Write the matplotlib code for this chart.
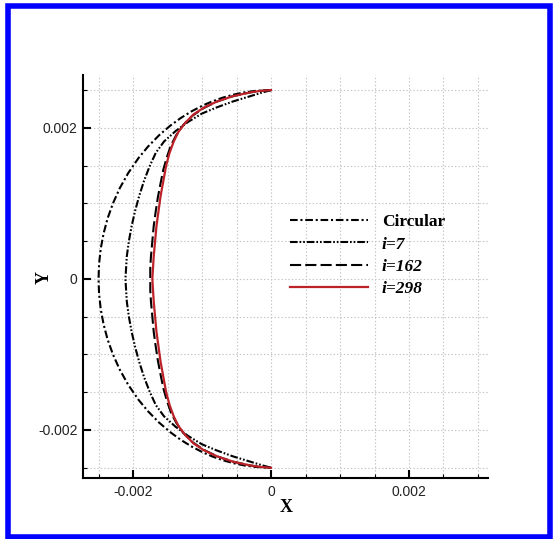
import matplotlib
matplotlib.use("Agg")
import matplotlib.pyplot as plt
from matplotlib.ticker import FixedLocator, MultipleLocator
from matplotlib.patches import Rectangle

plt.rcParams["lines.scale_dashes"] = False

# Profile shapes (X, Y) traced from top (0, 0.0025) to bottom (0, -0.0025)
circ_x = [0.0, -0.000223, -0.000386, -0.000544, -0.0007, -0.000853, -0.00098,
          -0.00115, -0.001309, -0.001459, -0.001625, -0.001785, -0.001921, -0.002071,
          -0.002193, -0.002291, -0.002369, -0.002427, -0.002468, -0.002492, -0.0025,
          -0.002492, -0.002468, -0.002427, -0.002369, -0.002291, -0.002193, -0.002071,
          -0.001921, -0.001785, -0.001625, -0.001459, -0.001309, -0.00115, -0.00098,
          -0.000853, -0.0007, -0.000544, -0.000386, -0.000223, 0.0]
circ_y = [0.0025, 0.00249, 0.00247, 0.00244, 0.0024, 0.00235, 0.0023,
          0.00222, 0.00213, 0.00203, 0.0019, 0.00175, 0.0016, 0.0014,
          0.0012, 0.001, 0.0008, 0.0006, 0.0004, 0.0002, 0.0,
          -0.0002, -0.0004, -0.0006, -0.0008, -0.001, -0.0012, -0.0014,
          -0.0016, -0.00175, -0.0019, -0.00203, -0.00213, -0.00222, -0.0023,
          -0.00235, -0.0024, -0.00244, -0.00247, -0.00249, -0.0025]

i7_x = [0.0, -0.00012, -0.0003, -0.00055, -0.00079, -0.001, -0.0012, -0.00138,
        -0.00155, -0.00167, -0.00176, -0.00184, -0.00191, -0.00197, -0.00202,
        -0.00206, -0.00209, -0.0021, -0.00211,
        -0.0021, -0.00209, -0.00206, -0.00202, -0.00197, -0.00191, -0.00184,
        -0.00176, -0.00167, -0.00155, -0.00138, -0.0012, -0.001, -0.00079,
        -0.00055, -0.0003, -0.00012, 0.0]
i7_y = [0.0025, 0.00247, 0.00242, 0.00235, 0.00227, 0.00219, 0.00208, 0.00196,
        0.00182, 0.00167, 0.00149, 0.0013, 0.0011, 0.0009, 0.0007,
        0.0005, 0.0003, 0.00015, 0.0,
        -0.00015, -0.0003, -0.0005, -0.0007, -0.0009, -0.0011, -0.0013,
        -0.00149, -0.00167, -0.00182, -0.00196, -0.00208, -0.00219, -0.00227,
        -0.00235, -0.00242, -0.00247, -0.0025]

i162_x = [0.0, -0.00015, -0.0003, -0.00055, -0.00078, -0.00098, -0.00114, -0.00127,
          -0.00137, -0.00145, -0.00151, -0.00156, -0.0016, -0.00164, -0.00167,
          -0.0017, -0.00172, -0.00174, -0.00175, -0.00175,
          -0.00175, -0.00174, -0.00172, -0.0017, -0.00167, -0.00164, -0.0016,
          -0.00156, -0.00151, -0.00145, -0.00137, -0.00127, -0.00114, -0.00098,
          -0.00078, -0.00055, -0.0003, -0.00015, 0.0]
i162_y = [0.0025, 0.00249, 0.00247, 0.00242, 0.00235, 0.00226, 0.00216, 0.00204,
          0.00191, 0.00177, 0.00161, 0.00145, 0.00127, 0.00108, 0.0009,
          0.0007, 0.0005, 0.0003, 0.00015, 0.0,
          -0.00015, -0.0003, -0.0005, -0.0007, -0.0009, -0.00108, -0.00127,
          -0.00145, -0.00161, -0.00177, -0.00191, -0.00204, -0.00216, -0.00226,
          -0.00235, -0.00242, -0.00247, -0.00249, -0.0025]

i298_x = [0.0, -0.00015, -0.0003, -0.00055, -0.00078, -0.00097, -0.00112, -0.00124,
          -0.00134, -0.00141, -0.00147, -0.00152, -0.00156, -0.0016, -0.00163,
          -0.00166, -0.00168, -0.0017, -0.00171, -0.00172,
          -0.00171, -0.0017, -0.00168, -0.00166, -0.00163, -0.0016, -0.00156,
          -0.00152, -0.00147, -0.00141, -0.00134, -0.00124, -0.00112, -0.00097,
          -0.00078, -0.00055, -0.0003, -0.00015, 0.0]
i298_y = [0.0025, 0.00249, 0.00247, 0.00242, 0.00235, 0.00227, 0.00218, 0.00207,
          0.00195, 0.00182, 0.00167, 0.0015, 0.0013, 0.0011, 0.0009,
          0.0007, 0.0005, 0.0003, 0.00015, 0.0,
          -0.00015, -0.0003, -0.0005, -0.0007, -0.0009, -0.0011, -0.0013,
          -0.0015, -0.00167, -0.00182, -0.00195, -0.00207, -0.00218, -0.00227,
          -0.00235, -0.00242, -0.00247, -0.00249, -0.0025]

labels = ["Circular", "i=7", "i=162", "i=298"]
major_ticks = [-0.002, 0.0, 0.002]
tick_labels = ["-0.002", "0", "0.002"]

W, H = 553, 539
fig = plt.figure(figsize=(W / 100, H / 100), dpi=100)
fig.patch.set_facecolor("white")

# blue frame around the figure
fig.patches.append(Rectangle((7.5 / W, 1 - 536.5 / H), (549.5 - 7.5) / W, (536.5 - 5.5) / H,
                             transform=fig.transFigure, fill=False,
                             edgecolor="#0000ff", linewidth=4.0, zorder=10))

ax = fig.add_axes([83 / W, 1 - 478 / H, 405 / W, 403 / H])
ax.set_xlim(-0.002725, 0.003145)
ax.set_ylim(-0.002636, 0.0027)

ax.plot(circ_x, circ_y, color="black", lw=1.5, ls=(0, (5.5, 2, 1.5, 2)), label=labels[0], zorder=3)
ax.plot(i7_x, i7_y, color="black", lw=1.5, ls=(0, (5.5, 1.4, 1.2, 1.4, 1.2, 1.4)), label=labels[1], zorder=3)
ax.plot(i162_x, i162_y, color="black", lw=1.5, ls=(0, (8, 3)), label=labels[2], zorder=3)
ax.plot(i298_x, i298_y, color="#bd2229", lw=1.6, ls="-", label=labels[3], zorder=4)

for s in ("top", "right"):
    ax.spines[s].set_visible(False)
for s in ("left", "bottom"):
    ax.spines[s].set_linewidth(1.5)
    ax.spines[s].set_color("black")

ax.xaxis.set_major_locator(FixedLocator(major_ticks))
ax.yaxis.set_major_locator(FixedLocator(major_ticks))
ax.set_xticklabels(tick_labels)
ax.set_yticklabels(tick_labels)
ax.xaxis.set_minor_locator(MultipleLocator(0.0005))
ax.yaxis.set_minor_locator(MultipleLocator(0.0005))
ax.tick_params(which="major", direction="in", length=6, width=1.5, labelsize=10,
               top=False, right=False)
ax.tick_params(which="minor", direction="in", length=3, width=0.8, top=False, right=False)
ax.tick_params(axis="x", which="major", pad=5)
ax.tick_params(axis="y", which="major", pad=4)
for t in ax.get_xticklabels() + ax.get_yticklabels():
    t.set_fontfamily("Liberation Sans")
    t.set_color("#222222")

ax.grid(True, which="both", color="#c4c4c4", lw=0.8, ls=(0, (1, 1.5)), zorder=0)
ax.set_axisbelow(True)

ax.set_xlabel("X", fontfamily="Liberation Serif", fontweight="bold", fontsize=13)
ax.set_ylabel("Y", fontfamily="Liberation Serif", fontweight="bold", fontsize=13)
ax.xaxis.set_label_coords((286 - 83) / 405, -(507 - 478) / 403)
ax.yaxis.set_label_coords((44 - 83) / 405, (478 - 277) / 403)
ax.xaxis.label.set_va("center")
ax.yaxis.label.set_va("center")

leg = ax.legend(loc="upper left", bbox_to_anchor=((290 - 83) / 405, (478 - 214) / 403),
                frameon=False, borderpad=0, borderaxespad=0, handlelength=4.5,
                handletextpad=0.8, labelspacing=0.36,
                prop={"family": "Liberation Serif", "weight": "bold", "size": 12.5})
for i, t in enumerate(leg.get_texts()):
    if i > 0:
        t.set_fontstyle("italic")

fig.savefig("out.png", dpi=100)
